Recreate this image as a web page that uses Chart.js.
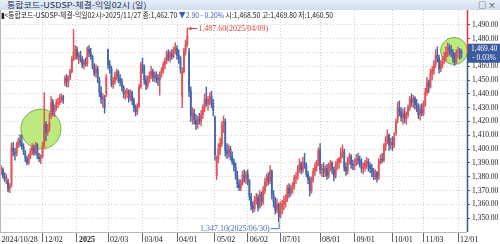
<!DOCTYPE html>
<html>
<head>
<meta charset="utf-8">
<script src="https://cdn.jsdelivr.net/npm/chart.js@4.4.1/dist/chart.umd.min.js"></script>
<style>
  html, body { margin:0; padding:0; background:#fff; }
  body { width:500px; height:244px; position:relative; overflow:hidden; font-family:'Liberation Sans Narrow','Noto Sans CJK KR',sans-serif; }
  #title { position:absolute; left:0; top:0; width:500px; height:10px; background:linear-gradient(#e6eff9,#cfdeef); color:#1d2b4a; font-size:8px; line-height:10px; }
  #title .t { position:absolute; left:7px; top:0; transform-origin:0 0; white-space:nowrap; }
  #title .b { position:absolute; right:4px; top:0; }
  #info { position:absolute; left:1px; top:10px; height:9px; font-size:8px; line-height:9px; color:#222; white-space:nowrap; z-index:2; transform-origin:0 0; }
  #info .dn { color:#3b5fb0; }
  #wrap { position:absolute; left:0; top:10px; width:500px; height:234px; }
</style>
</head>
<body>
<div id="title"><span class="t" id="t1">통합코드-USDSP-체결-익일02시 (일)</span><span class="b">□ ×</span></div>
<div id="info">▮&lt;통합코드-USDSP-체결-익일02시&gt;2025/11/27 종:1,462.70 <span class="dn">▼2.90 - 0.20%</span> 시:1,468.50 고:1,469.80 저:1,460.50</div>
<div id="wrap"><canvas id="myChart" width="500" height="234"></canvas></div>
<script>
'use strict';
// trading days per month
let months = ['2024/10','2024/11','2024/12','2025/01','2025/02','2025/03','2025/04','2025/05','2025/06','2025/07','2025/08','2025/09','2025/10','2025/11','2025/12'];
let days = [
  [28,29,30,31],
  [1,4,5,6,7,8,11,12,13,14,15,18,19,20,21,22,25,26,27,28,29],
  [2,3,4,5,6,9,10,11,12,13,16,17,18,19,20,23,24,26,27,30],
  [2,3,6,7,8,9,10,13,14,15,16,17,20,21,22,23,24,31],
  [3,4,5,6,7,10,11,12,13,14,17,18,19,20,21,24,25,26,27,28],
  [4,5,6,7,10,11,12,13,14,17,18,19,20,21,24,25,26,27,28,31],
  [1,2,3,4,7,8,9,10,11,14,15,16,17,18,21,22,23,24,25,28,29,30],
  [2,7,8,9,12,13,14,15,16,19,20,21,22,23,26,27,28,29,30],
  [2,4,5,9,10,11,12,13,16,17,18,19,20,23,24,25,26,27,30],
  [1,2,3,4,7,8,9,10,11,14,15,16,17,18,21,22,23,24,25,28,29,30,31],
  [1,4,5,6,7,8,11,12,13,14,18,19,20,21,22,25,26,27,28,29],
  [1,2,3,4,5,8,9,10,11,12,15,16,17,18,19,22,23,24,25,26,29,30],
  [1,2,10,13,14,15,16,17,20,21,22,23,24,27,28,29,30,31],
  [3,4,5,6,7,10,11,12,13,14,17,18,19,20,21,24,25,26,27,28],
  [1,2,3]
];

let opens = [
  1386.0,1384.0,1385.0,1380.0,
  1378.5,1377.0,1371.5,1374.0,1401.0,1397.0,1396.5,1403.0,1406.0,1404.0,1401.5,1397.0,1393.0,1390.5,1395.0,1398.5,1401.0,1397.5,1403.0,1394.5,1393.0,
  1394.5,1402.0,1418.0,1412.0,1415.0,1425.0,1434.0,1427.0,1430.0,1433.0,1434.0,1437.0,1438.0,1448.0,1451.0,1449.0,1452.0,1456.0,1465.0,1470.0,
  1472.0,1467.0,1468.0,1465.0,1461.0,1463.0,1462.0,1472.0,1470.0,1467.0,1460.0,1455.0,1458.0,1450.0,1441.0,1436.0,1437.0,1440.0,
  1472.0,1461.0,1458.0,1447.0,1449.0,1453.0,1456.0,1451.0,1449.0,1445.0,1440.0,1441.0,1442.0,1437.0,1441.0,1435.0,1430.0,1427.0,1431.0,1445.0,
  1461.0,1460.0,1450.0,1446.0,1451.0,1453.0,1456.0,1452.0,1454.0,1451.0,1450.0,1454.0,1457.0,1461.0,1464.0,1469.0,1466.0,1469.0,1467.0,1472.0,
  1473.0,1468.0,1466.0,1438.0,1456.0,1471.0,1476.0,1471.0,1442.0,1424.0,1426.0,1421.0,1418.0,1422.0,1420.0,1425.0,1430.0,1436.0,1433.0,1436.0,1438.0,1433.0,
  1423.0,1381.0,1393.0,1400.0,1404.0,1417.0,1420.0,1399.0,1397.0,1400.0,1395.0,1391.0,1387.0,1381.0,1375.0,1372.0,1376.0,1381.0,1379.0,
  1382.0,1377.0,1366.0,1359.0,1357.0,1363.0,1365.0,1358.0,1367.0,1362.0,1370.0,1376.0,1380.0,1377.0,1384.0,1367.0,1362.0,1356.0,1360.0,
  1351.0,1357.0,1360.0,1362.0,1364.0,1372.0,1368.0,1371.0,1373.0,1379.0,1380.0,1385.0,1389.0,1385.0,1390.0,1388.0,1382.0,1378.0,1370.0,1378.0,1384.0,1387.0,1390.0,
  1399.0,1385.0,1386.0,1383.0,1386.0,1381.0,1388.0,1390.0,1385.0,1380.0,1389.0,1391.0,1393.0,1397.0,1398.0,1387.0,1384.0,1392.0,1395.0,1389.0,
  1388.0,1390.0,1393.0,1392.0,1390.0,1386.0,1387.0,1390.0,1391.0,1388.0,1386.0,1384.0,1380.0,1383.0,1379.0,1391.0,1393.0,1392.0,1402.0,1407.0,1410.0,1403.0,
  1405.0,1403.0,1412.0,1422.0,1430.0,1427.0,1423.0,1426.0,1422.0,1425.0,1430.0,1436.0,1434.0,1437.0,1432.0,1430.0,1425.0,1429.0,
  1426.0,1433.0,1441.0,1448.0,1445.0,1455.0,1457.0,1461.0,1468.0,1466.0,1458.0,1461.0,1465.0,1467.0,1470.0,1474.0,1472.0,1470.0,1468.5,1463.0,
  1470.0,1471.0,1469.8
];
let highs = [
  1389.5,1388.0,1386.5,1383.0,
  1382.0,1378.5,1375.0,1404.5,1405.0,1400.5,1405.0,1408.0,1410.5,1410.0,1404.0,1399.0,1395.0,1396.5,1400.5,1404.0,1403.0,1405.0,1404.0,1397.0,1396.0,
  1405.0,1441.0,1420.0,1418.0,1426.0,1438.0,1436.0,1432.0,1436.0,1437.0,1439.5,1440.0,1439.0,1453.0,1454.0,1453.0,1458.0,1467.0,1486.7,1475.0,
  1474.0,1470.0,1471.0,1467.0,1465.0,1466.0,1474.0,1475.0,1473.0,1468.0,1462.0,1461.0,1460.0,1452.0,1445.0,1440.0,1439.0,1454.0,
  1472.5,1464.0,1460.0,1452.0,1456.0,1458.0,1457.0,1454.0,1451.0,1446.0,1443.0,1444.0,1443.0,1443.0,1442.0,1437.0,1432.0,1433.0,1447.0,1463.0,
  1466.0,1461.0,1453.0,1453.0,1456.0,1460.0,1458.0,1456.0,1456.0,1454.0,1456.0,1459.0,1463.0,1466.0,1471.0,1472.0,1471.0,1472.0,1474.0,1477.0,
  1475.0,1472.0,1467.0,1459.0,1473.0,1479.0,1487.6,1473.0,1445.0,1430.0,1429.0,1425.0,1424.0,1426.0,1428.0,1432.0,1440.0,1445.0,1438.0,1441.0,1442.0,1436.0,
  1424.0,1395.0,1404.0,1408.0,1420.0,1424.0,1422.0,1404.0,1403.0,1402.0,1398.0,1393.0,1390.0,1384.0,1378.0,1378.0,1384.0,1385.0,1384.0,
  1385.0,1378.0,1368.0,1362.0,1366.0,1368.0,1367.0,1370.0,1369.0,1373.0,1379.0,1382.0,1383.0,1388.0,1385.0,1370.0,1365.0,1364.0,1361.0,
  1362.0,1363.0,1366.0,1367.0,1374.0,1375.0,1374.0,1376.0,1381.0,1383.0,1388.0,1393.0,1391.0,1394.0,1397.0,1390.0,1384.0,1380.0,1380.0,1386.0,1390.0,1392.0,1401.0,
  1404.0,1389.0,1390.0,1388.0,1389.0,1390.0,1392.0,1391.0,1387.0,1391.0,1393.0,1394.0,1401.0,1403.0,1400.0,1390.0,1394.0,1397.0,1396.0,1392.0,
  1393.0,1396.0,1397.0,1395.0,1393.0,1390.0,1392.0,1394.0,1393.0,1390.0,1389.0,1386.0,1385.0,1384.0,1393.0,1396.0,1397.0,1404.0,1409.0,1414.0,1411.0,1408.0,
  1409.0,1412.0,1422.0,1434.0,1435.0,1430.0,1429.0,1430.0,1427.0,1432.0,1438.0,1440.0,1439.0,1438.0,1436.0,1433.0,1432.0,1433.0,
  1435.0,1444.0,1452.0,1450.0,1458.0,1460.0,1464.0,1472.0,1474.0,1468.0,1464.0,1467.0,1470.0,1474.0,1477.0,1476.0,1475.0,1472.0,1469.8,1472.0,
  1474.0,1473.0,1472.0
];
let lows = [
  1382.0,1381.5,1379.0,1376.5,
  1375.0,1369.0,1368.5,1372.5,1395.0,1392.0,1395.0,1401.0,1402.0,1400.0,1396.0,1391.0,1388.5,1389.0,1393.0,1396.0,1395.5,1396.0,1393.0,1391.0,1389.5,
  1393.5,1401.0,1406.0,1410.0,1413.0,1422.0,1424.0,1423.5,1428.0,1430.0,1432.0,1434.0,1433.0,1446.0,1445.0,1445.0,1450.0,1455.0,1464.0,1465.0,
  1465.0,1462.0,1463.0,1459.0,1458.0,1460.0,1460.0,1467.0,1465.0,1458.0,1453.0,1452.0,1448.0,1438.0,1433.0,1430.0,1426.0,1438.0,
  1458.0,1455.0,1445.0,1444.0,1447.0,1450.0,1448.0,1446.0,1442.0,1437.0,1436.0,1437.0,1434.0,1435.0,1432.0,1427.0,1424.0,1425.0,1430.0,1444.0,
  1455.0,1447.0,1443.0,1444.0,1448.0,1451.0,1449.0,1449.0,1448.0,1446.0,1439.0,1452.0,1455.0,1458.0,1462.0,1464.0,1463.0,1465.0,1466.0,1469.0,
  1465.0,1462.0,1455.0,1430.0,1455.0,1468.0,1474.0,1438.0,1420.0,1418.0,1418.0,1414.0,1415.0,1418.0,1417.0,1422.0,1427.0,1431.0,1428.0,1432.0,1430.0,1424.0,
  1392.0,1378.0,1390.0,1396.0,1402.0,1412.0,1395.0,1393.0,1394.0,1392.0,1389.0,1384.0,1378.0,1372.0,1370.0,1370.0,1374.0,1376.0,1375.0,
  1374.0,1363.0,1356.0,1354.0,1355.0,1360.0,1355.0,1357.0,1359.0,1360.0,1368.0,1373.0,1374.0,1375.0,1364.0,1358.0,1353.0,1354.0,1347.1,
  1350.0,1353.0,1356.0,1358.0,1362.0,1365.0,1366.0,1368.0,1371.0,1375.0,1378.0,1383.0,1382.0,1383.0,1386.0,1380.0,1375.0,1366.0,1368.0,1376.0,1381.0,1384.0,1388.0,
  1382.0,1380.0,1380.0,1380.0,1378.0,1379.0,1384.0,1382.0,1377.0,1379.0,1385.0,1386.0,1390.0,1394.0,1384.0,1381.0,1382.0,1389.0,1386.0,1385.0,
  1385.0,1388.0,1389.0,1387.0,1383.0,1382.0,1384.0,1386.0,1384.0,1383.0,1380.0,1378.0,1378.0,1376.0,1378.0,1389.0,1390.0,1391.0,1399.0,1404.0,1399.0,1400.0,
  1399.0,1401.0,1410.0,1419.0,1424.0,1420.0,1418.0,1419.0,1418.0,1423.0,1428.0,1431.0,1430.0,1429.0,1427.0,1422.0,1421.0,1424.0,
  1424.0,1431.0,1439.0,1441.0,1444.0,1450.0,1454.0,1459.0,1463.0,1455.0,1456.0,1459.0,1462.0,1464.0,1467.0,1468.0,1467.0,1463.0,1460.5,1462.0,
  1466.0,1465.0,1466.0
];
let closes = [
  1384.5,1386.5,1380.5,1378.0,
  1380.0,1371.0,1373.0,1401.0,1398.0,1396.5,1403.0,1406.0,1404.5,1402.0,1398.0,1393.5,1390.0,1395.0,1398.5,1401.5,1397.0,1403.0,1395.0,1393.0,1394.0,
  1402.0,1418.0,1412.5,1415.0,1419.0,1434.0,1427.0,1430.0,1433.5,1434.0,1437.5,1438.0,1435.5,1451.5,1449.0,1452.0,1456.5,1465.0,1470.0,1472.5,
  1467.0,1468.0,1465.0,1461.0,1463.5,1462.0,1472.5,1470.0,1467.0,1460.0,1455.0,1458.0,1451.0,1441.0,1436.0,1438.0,1430.0,1452.0,
  1461.0,1459.0,1447.0,1449.5,1453.0,1456.0,1451.0,1449.0,1445.0,1440.0,1441.5,1442.0,1437.0,1441.0,1435.0,1430.0,1427.0,1431.0,1445.0,1461.0,
  1460.0,1450.0,1446.0,1451.0,1453.0,1456.0,1452.0,1454.0,1451.0,1450.0,1454.0,1457.0,1461.0,1463.5,1469.0,1466.0,1469.5,1467.0,1472.0,1473.5,
  1468.0,1466.0,1458.0,1456.0,1471.0,1476.0,1482.0,1442.0,1424.0,1426.0,1421.0,1418.0,1422.0,1420.0,1425.0,1430.0,1436.0,1433.0,1436.0,1438.0,1433.0,1428.0,
  1396.0,1393.0,1400.0,1404.0,1417.0,1420.0,1399.0,1397.0,1400.0,1395.0,1391.0,1387.0,1381.0,1375.0,1372.0,1376.0,1381.0,1379.0,1382.0,
  1377.0,1366.0,1359.0,1357.0,1363.0,1365.0,1358.0,1367.0,1362.0,1370.0,1376.0,1380.0,1377.0,1384.0,1367.0,1362.0,1356.0,1360.0,1351.0,
  1357.0,1360.0,1362.0,1364.0,1372.0,1368.0,1371.0,1373.0,1379.0,1380.0,1385.0,1389.0,1385.0,1390.0,1388.0,1382.0,1378.0,1370.0,1378.0,1384.0,1387.0,1390.0,1399.0,
  1385.0,1386.0,1383.0,1386.0,1381.0,1388.0,1390.0,1385.0,1380.0,1389.0,1391.0,1393.0,1397.0,1398.0,1387.0,1384.0,1392.0,1395.0,1389.0,1388.0,
  1390.0,1393.0,1392.0,1390.0,1386.0,1387.0,1390.0,1391.0,1388.0,1386.0,1384.0,1380.0,1383.0,1379.0,1391.0,1393.0,1392.0,1402.0,1407.0,1410.0,1403.0,1405.0,
  1403.0,1409.0,1420.0,1430.0,1427.0,1423.0,1426.0,1422.0,1425.0,1430.0,1436.0,1434.0,1437.0,1432.0,1430.0,1425.0,1429.0,1426.0,
  1433.0,1441.0,1448.0,1445.0,1455.0,1457.0,1461.0,1468.0,1466.0,1458.0,1461.0,1465.0,1467.0,1470.0,1474.0,1472.0,1470.0,1465.6,1462.7,1470.0,
  1471.0,1469.8,1469.4
];

let tickDates = ['2024/10/28','2024/12/02','2025/01/02','2025/02/03','2025/03/04','2025/04/01','2025/05/02','2025/06/02','2025/07/01','2025/08/01','2025/09/01','2025/10/01','2025/11/03','2025/12/01'];
let tickText = ['2024/10/28','12/02','2025','02/03','03/04','04/01','05/02','06/02','07/01','08/01','09/01','10/01','11/03','12/01'];
let yTicks = [1350,1360,1370,1380,1390,1400,1410,1420,1430,1440,1450,1460,1470,1480,1490];

// highlight circles (index, price, radius px)
let circles = [
  {i: 24.1, v: 1414.5, r: 20},
  {i: 263.7, v: 1471, r: 13.5}
];

let RED = '#e25256';
let BLUE = '#4466ad';

let dates = [];
for (let m = 0; m < months.length; m++) {
  for (let d = 0; d < days[m].length; d++) {
    dates.push(months[m] + '/' + String(days[m][d]).padStart(2, '0'));
  }
}
let tickIdx = tickDates.map(d => dates.indexOf(d));

function fmt(v) {
  return v.toLocaleString('en-US', {minimumFractionDigits: 2, maximumFractionDigits: 2});
}
function barColor(c) {
  let i = c.dataIndex;
  return closes[i] > opens[i] ? RED : BLUE;
}
// squeeze header text to the width it has in the picture
function fitWidth(el, w) {
  el.style.transform = 'scaleX(' + (w / el.offsetWidth) + ')';
}
fitWidth(document.getElementById('t1'), 140);
fitWidth(document.getElementById('info'), 332);

let decor = {
  id: 'decor',
  beforeDatasetsDraw(chart) {
    let {ctx, scales: {x, y}} = chart;
    ctx.save();
    circles.forEach(c => {
      ctx.beginPath();
      ctx.arc(x.getPixelForValue(c.i), y.getPixelForValue(c.v), c.r, 0, Math.PI * 2);
      ctx.fillStyle = '#bdea7e';
      ctx.fill();
      ctx.lineWidth = 1;
      ctx.strokeStyle = '#7cad46';
      ctx.stroke();
    });
    ctx.restore();
  },
  afterDraw(chart) {
    let {ctx, chartArea: a, scales: {x, y}} = chart;
    let n = closes.length - 1;
    let py = y.getPixelForValue(closes[n]);
    ctx.save();
    ctx.strokeStyle = '#b9b9b9';
    ctx.lineWidth = 1;
    ctx.beginPath();
    ctx.moveTo(0.5, a.top); ctx.lineTo(0.5, a.bottom);
    ctx.moveTo(0, a.bottom + 0.5); ctx.lineTo(a.right, a.bottom + 0.5);
    ctx.stroke();
    // right axis line: red above the last price, blue below
    ctx.lineWidth = 1.5;
    ctx.strokeStyle = '#e0393b';
    ctx.beginPath(); ctx.moveTo(a.right + 0.5, a.top); ctx.lineTo(a.right + 0.5, py); ctx.stroke();
    ctx.strokeStyle = '#2f55a4';
    ctx.beginPath(); ctx.moveTo(a.right + 0.5, py); ctx.lineTo(a.right + 0.5, a.bottom); ctx.stroke();
    ctx.fillStyle = '#3a5c9e';
    ctx.fillRect(a.right + 1, py - 9.5, 33, 19);
    ctx.fillStyle = '#fff';
    ctx.font = '7.5px "Liberation Sans Narrow"';
    ctx.textAlign = 'center';
    ctx.textBaseline = 'middle';
    let pct = (closes[n] - closes[n - 1]) / closes[n - 1] * 100;
    ctx.fillText(fmt(closes[n]), a.right + 17, py - 4.5);
    ctx.fillText((pct < 0 ? '- ' : '+ ') + Math.abs(pct).toFixed(2) + '%', a.right + 17, py + 4.5);

    // highest high
    let hi = highs.indexOf(Math.max(...highs));
    let hx = x.getPixelForValue(hi), hy = y.getPixelForValue(highs[hi]);
    ctx.strokeStyle = ctx.fillStyle = '#d8443c';
    ctx.lineWidth = 1;
    ctx.beginPath(); ctx.moveTo(hx + 1, hy + 0.5); ctx.lineTo(hx + 10, hy + 0.5); ctx.stroke();
    ctx.beginPath(); ctx.moveTo(hx + 1, hy + 0.5); ctx.lineTo(hx + 4, hy - 1.5); ctx.lineTo(hx + 4, hy + 2.5); ctx.closePath(); ctx.fill();
    ctx.font = '8px "Liberation Sans Narrow"';
    ctx.textAlign = 'left';
    ctx.fillText(fmt(highs[hi]) + '(' + dates[hi] + ')', hx + 11, hy + 1);

    // lowest low
    let lo = lows.indexOf(Math.min(...lows));
    let lx = x.getPixelForValue(lo), ly = y.getPixelForValue(lows[lo]);
    ctx.strokeStyle = ctx.fillStyle = '#4a6fb6';
    ctx.beginPath(); ctx.moveTo(lx - 8, ly + 6.5); ctx.lineTo(lx + 0.5, ly + 6.5); ctx.lineTo(lx + 0.5, ly + 1); ctx.stroke();
    ctx.textAlign = 'right';
    ctx.fillText(fmt(lows[lo]) + '(' + dates[lo] + ')', lx - 9, ly + 6.5);
    ctx.restore();
  }
};

let ctx = document.getElementById('myChart').getContext('2d');
let myChart = new Chart(ctx, {
  type: 'bar',
  data: {
    datasets: [
      {data: dates.map((d, i) => ({x: i, y: [lows[i], highs[i]]})), barThickness: 0.8, backgroundColor: barColor, grouped: false},
      {data: dates.map((d, i) => ({x: i, y: [opens[i], closes[i]]})), barThickness: 1.2, minBarLength: 1, backgroundColor: barColor, grouped: false}
    ]
  },
  options: {
    responsive: false,
    devicePixelRatio: 1,
    animation: false,
    events: [],
    layout: {padding: 0, autoPadding: false},
    plugins: {legend: {display: false}, tooltip: {enabled: false}},
    scales: {
      x: {
        type: 'linear', min: 0.34, max: 271.2, offset: false,
        afterBuildTicks: s => { s.ticks = tickIdx.map(v => ({value: v})); },
        afterFit: s => { s.height = 12; s.paddingLeft = 0; s.paddingRight = 0; },
        ticks: {
          autoSkip: false, maxRotation: 0, align: 'start', padding: -7, color: '#222',
          font: c => ({family: 'Liberation Sans Narrow', size: 8, weight: tickText[c.index] === '2025' ? 'bold' : 'normal'}),
          callback: v => ' ' + tickText[tickIdx.indexOf(v)]
        },
        grid: {color: '#cfcfcf', tickColor: '#666', tickLength: 10, offset: false},
        border: {display: false, dash: [1, 2]}
      },
      y: {
        type: 'linear', position: 'right', min: 1340, max: 1500.7,
        afterBuildTicks: s => { s.ticks = yTicks.map(v => ({value: v})); },
        afterFit: s => { s.width = 33; s.paddingTop = 0; s.paddingBottom = 0; },
        ticks: {padding: 2, color: '#222', font: {family: 'Liberation Sans Narrow', size: 7.5}, callback: v => fmt(v)},
        grid: {color: '#d2d2d2', tickColor: '#555', tickLength: 3},
        border: {display: false, dash: [1, 2]}
      }
    }
  },
  plugins: [decor]
});
</script>
</body>
</html>
